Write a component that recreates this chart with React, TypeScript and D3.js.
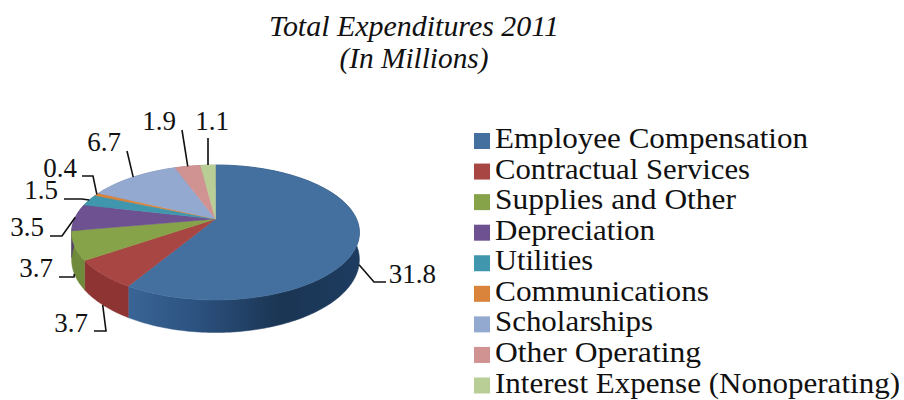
import React from "react";
import * as d3 from "d3";

const title = ["Total Expenditures 2011", "(In Millions)"];
const categories = ["Employee Compensation", "Contractual Services", "Supplies and Other", "Depreciation", "Utilities", "Communications", "Scholarships", "Other Operating", "Interest Expense (Nonoperating)"];
const values = [31.8, 3.7, 3.7, 3.5, 1.5, 0.4, 6.7, 1.9, 1.1];
const valueLabels = ["31.8", "3.7", "3.7", "3.5", "1.5", "0.4", "6.7", "1.9", "1.1"];
const topColors = ["#44709f", "#a84643", "#87a349", "#6d5190", "#3f96ad", "#da833a", "#93a9cf", "#d09392", "#b9cd96"];
const wallColors = ["url(#blueWall)", "#8e3533", "#6f8a3a", "#56406f", "#327585", "#a8652c", "#7586a3", "#a27473", "#92a277"];

// Layout only: leader-line bend points and label anchors, legend text widths
const labelLayout = [
  { onWall: true, pts: [[374, 282], [386, 282]], lx: 436, ly: 283 },
  { onWall: true, pts: [[106, 331], [94, 331]], lx: 88, ly: 332 },
  { onWall: true, pts: [[74, 277], [59, 277]], lx: 53, ly: 277 },
  { onWall: false, pts: [[62, 236], [50, 236]], lx: 44, ly: 236 },
  { onWall: false, pts: [[82, 199], [64, 199]], lx: 58, ly: 199 },
  { onWall: false, pts: [[93, 176], [82, 176]], lx: 77, ly: 177 },
  { onWall: false, pts: [[127, 151]], lx: 121, ly: 151 },
  { onWall: false, pts: [[182, 130]], lx: 176, ly: 130 },
  { onWall: false, pts: [[208, 138]], lx: 229, ly: 130 },
];
const legendTextWidths = [313, 255, 241, 160, 98, 214, 158, 206, 405];

const W = 904, H = 400;
const apexX = 215.5, apexY = 219, Rx = 141, Ry = 64.8, k = 0.2, wallD = 26;
const FONT = "'Liberation Serif', serif";

const proj = (a: number, wall = 0): [number, number] => {
  const X = Math.sin(a), Y = Math.cos(a), w = 1 + k * Y;
  return [apexX + (Rx * X) / w, apexY - (Ry * Y) / w + (wall * wallD) / w];
};

const arcs = d3.pie<number>().sort(null).startAngle(0).endAngle(2 * Math.PI)(values);
const line = d3.line();
const steps = (s: number, e: number) => {
  const n = Math.max(2, Math.ceil((e - s) / 0.02));
  return d3.range(n + 1).map((i) => s + ((e - s) * i) / n);
};

export default function App() {
  const legendY = d3.scalePoint<string>().domain(categories).range([141, 385.5]);
  return (
    <svg width={W} height={H} viewBox={`0 0 ${W} ${H}`} style={{ position: "absolute", left: 0, top: 0, background: "#fff" }}>
      <defs>
        <linearGradient id="blueWall" gradientUnits="userSpaceOnUse" x1={125} x2={362} y1={0} y2={0}>
          <stop offset="0" stopColor="#3a6697" />
          <stop offset="0.3" stopColor="#2c5280" />
          <stop offset="0.65" stopColor="#1b3553" />
          <stop offset="1" stopColor="#1d3c60" />
        </linearGradient>
      </defs>
      <g fontFamily={FONT} fontStyle="italic" fontSize={30} fill="#111" textAnchor="middle">
        <text x={414} y={36} textLength={290} lengthAdjust="spacingAndGlyphs">{title[0]}</text>
        <text x={414} y={68} textLength={149} lengthAdjust="spacingAndGlyphs">{title[1]}</text>
      </g>
      {arcs.map((d, i) => {
        const as = steps(d.startAngle, d.endAngle);
        const pts = [...as.map((a) => proj(a, 0)), ...as.slice().reverse().map((a) => proj(a, 1))];
        return <path key={i} d={line(pts) + "Z"} fill={wallColors[i]} stroke={wallColors[i]} strokeWidth={0.5} />;
      })}
      {arcs.map((d, i) => {
        const pts: [number, number][] = [[apexX, apexY], ...steps(d.startAngle, d.endAngle).map((a) => proj(a, 0))];
        return <path key={i} d={line(pts) + "Z"} fill={topColors[i]} stroke={topColors[i]} strokeWidth={0.5} />;
      })}
      {arcs.map((d, i) => {
        const l = labelLayout[i];
        const mid = (d.startAngle + d.endAngle) / 2;
        const start = proj(mid, l.onWall ? 1 : 0);
        return (
          <g key={i}>
            <path d={line([start, ...(l.pts as [number, number][])]) as string} fill="none" stroke="#111" strokeWidth={1.6} />
            <text x={l.lx} y={l.ly} fontFamily={FONT} fontSize={27} fill="#111" textAnchor="end">{valueLabels[i]}</text>
          </g>
        );
      })}
      {categories.map((c, i) => (
        <g key={c}>
          <rect x={474} y={legendY(c)! - 8} width={16} height={16} fill={topColors[i]} />
          <text x={495} y={legendY(c)! + 7} fontFamily={FONT} fontSize={30} fill="#111" textLength={legendTextWidths[i]} lengthAdjust="spacingAndGlyphs">{c}</text>
        </g>
      ))}
    </svg>
  );
}
